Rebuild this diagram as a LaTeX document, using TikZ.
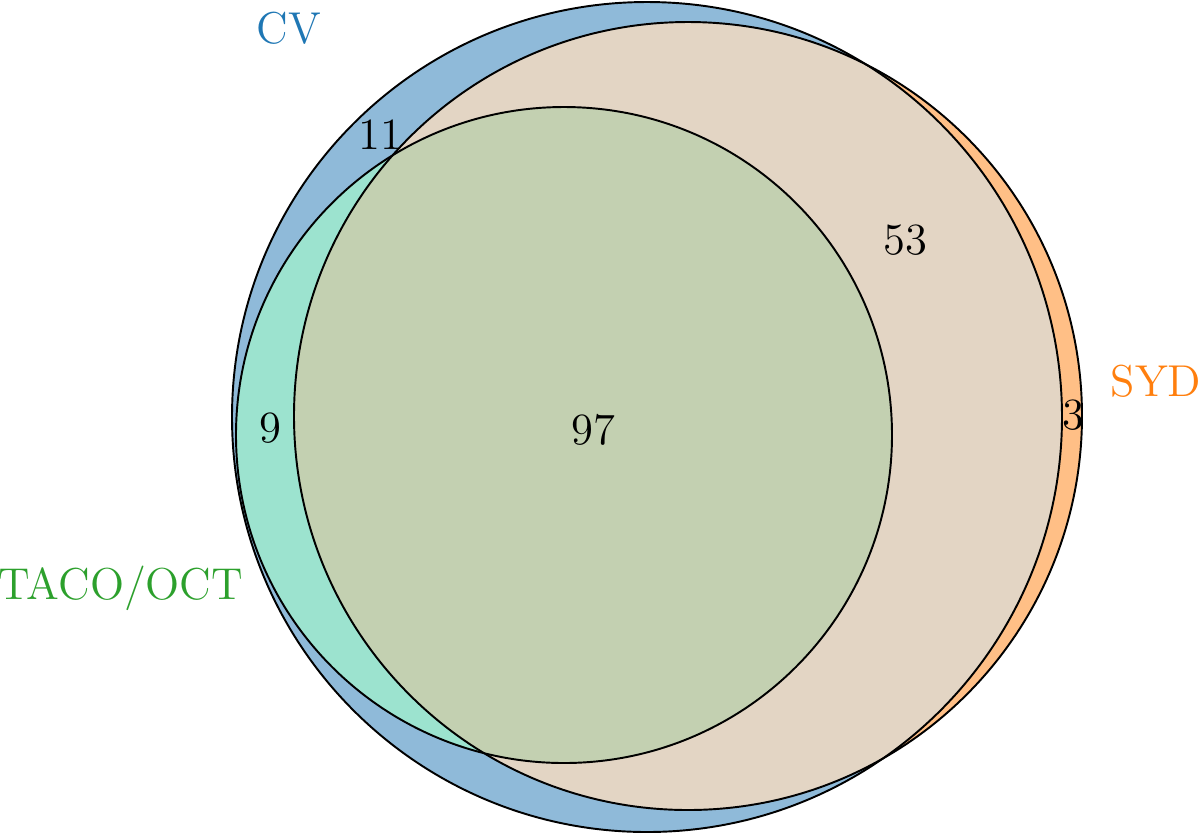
\documentclass[tikz,border=0pt]{standalone}
\definecolor{cvcol}{HTML}{1F77B4}
\definecolor{sydcol}{HTML}{FF7F0E}
\definecolor{tacocol}{HTML}{2CA02C}
\definecolor{cvonly}{HTML}{8FBAD9}
\definecolor{sydonly}{HTML}{FFBF86}
\definecolor{cvsyd}{HTML}{E3D5C4}
\definecolor{cvtaco}{HTML}{9CE3CF}
\definecolor{allthree}{HTML}{C3D0B1}
\begin{document}
\begin{tikzpicture}[x=1cm,y=-1cm,
  setlabel/.style={font=\fontsize{12.7}{15}\selectfont, inner sep=0pt},
  numlabel/.style={font=\fontsize{12.7}{15}\selectfont, inner sep=0pt, text=black},
  edge/.style={draw=black, line width=0.55pt}]
\useasboundingbox (0,0) rectangle (12,8.33);
\def\cv{(6.47,4.17) circle [radius=4.15cm]}
\def\syd{(6.88,4.16) circle [radius=3.94cm]}
\def\taco{(5.64,4.35) circle [radius=3.28cm]}
% fills
\fill[cvonly] \cv;
\fill[sydonly] \syd;
\begin{scope}
  \clip \cv;
  \fill[cvsyd] \syd;
\end{scope}
\fill[cvtaco] \taco;
\begin{scope}
  \clip \syd;
  \fill[allthree] \taco;
\end{scope}
% outlines
\draw[edge] \cv;
\draw[edge] \syd;
\draw[edge] \taco;
% set labels
\node[setlabel, text=cvcol] (lcv) at (2.89,0.28) {CV};
\node[setlabel, text=sydcol] (lsyd) at (11.56,3.81) {SYD};
\node[setlabel, text=tacocol] (ltaco) at (1.21,5.88) {TACO/OCT};
% region counts
\node[numlabel] (n11) at (3.80,1.35) {11};
\node[numlabel] (n53) at (9.05,2.40) {53};
\node[numlabel] (n3) at (10.73,4.15) {3};
\node[numlabel] (n9) at (2.70,4.28) {9};
\node[numlabel] (n97) at (5.93,4.30) {97};
\end{tikzpicture}
\end{document}
